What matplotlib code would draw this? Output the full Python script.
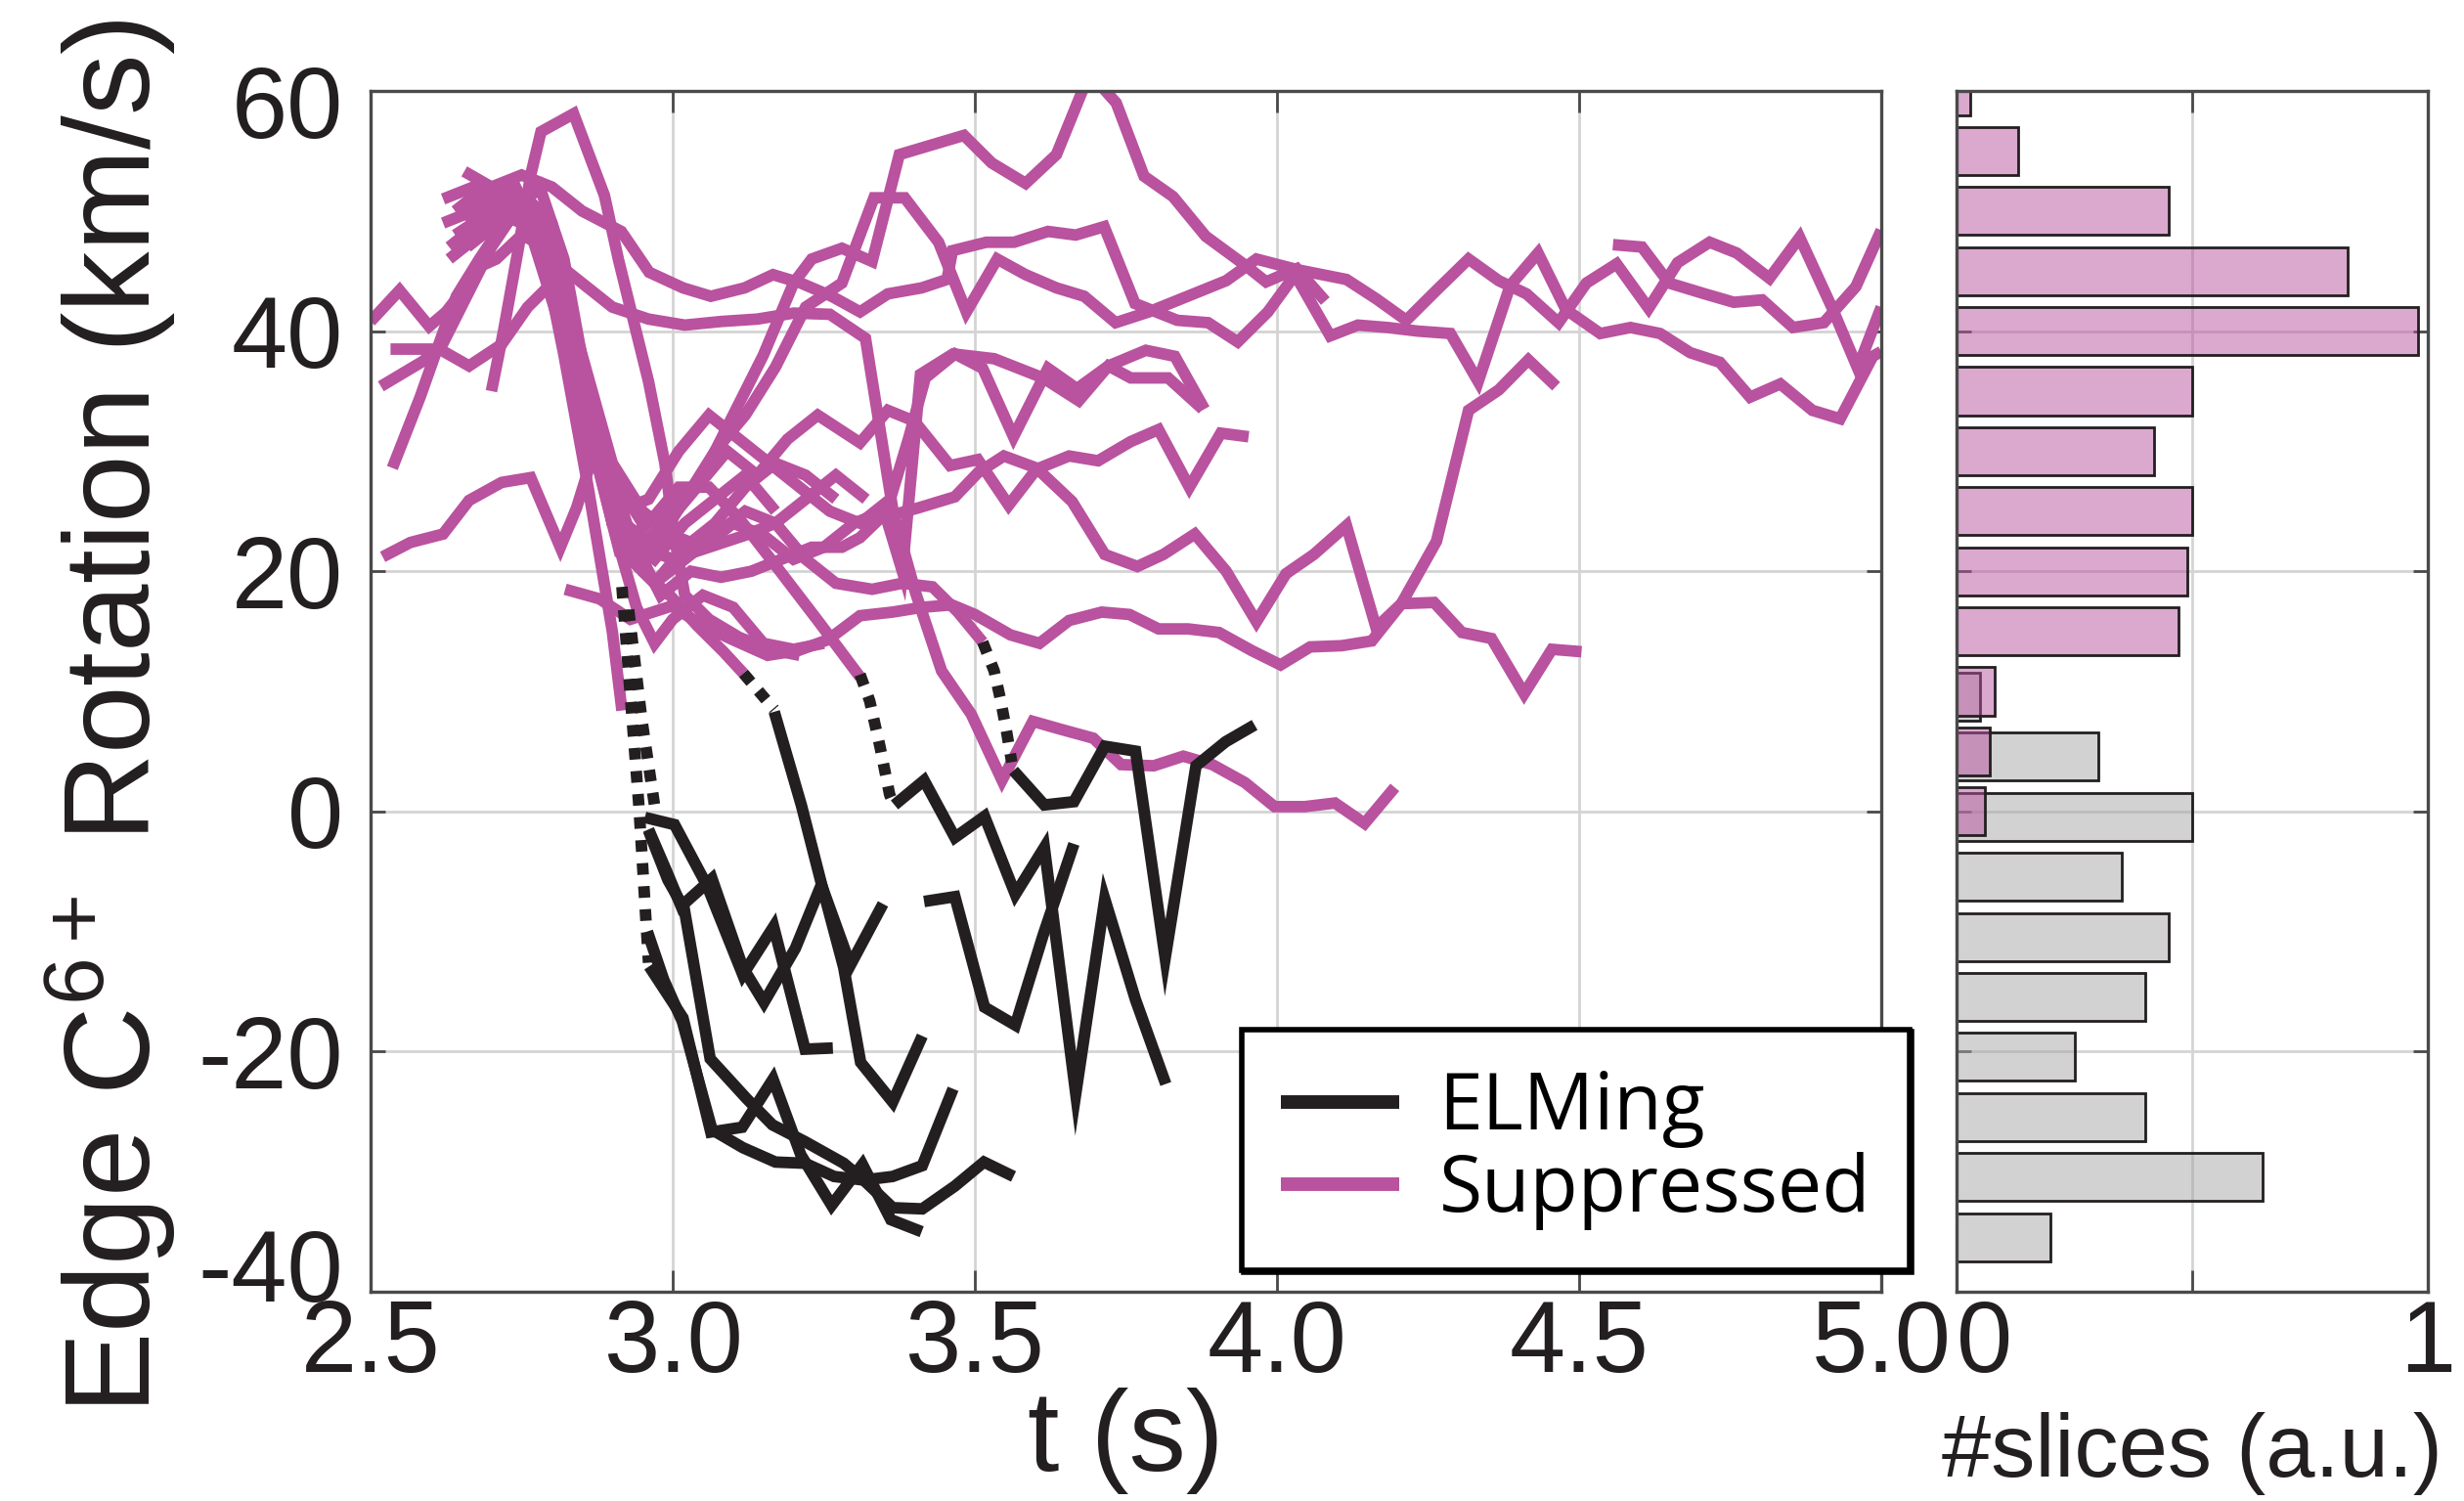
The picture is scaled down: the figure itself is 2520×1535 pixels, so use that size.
import matplotlib
matplotlib.use('Agg')
import matplotlib.pyplot as plt
from matplotlib.lines import Line2D
from matplotlib.transforms import ScaledTranslation

plt.rcParams['font.family'] = ['Liberation Sans', 'DejaVu Sans']
plt.rcParams['axes.unicode_minus'] = False
plt.rcParams['mathtext.fontset'] = 'custom'
plt.rcParams['mathtext.rm'] = 'Liberation Sans'
plt.rcParams['mathtext.it'] = 'Liberation Sans:italic'
plt.rcParams['mathtext.bf'] = 'Liberation Sans:bold'

PINK = '#B9529F'
BLACK = '#231F20'
SPINE = '#4a4a4a'
GRID = '#d4d4d4'

# ---------------- Suppressed (pink) traces: time (s), rotation (km/s) -------------
sup01_t = [4.556, 4.604, 4.649, 4.708, 4.756, 4.803, 4.854, 4.905, 4.958, 5.0]
sup01_v = [47.2, 47.0, 44.0, 43.1, 42.4, 42.6, 40.3, 40.7, 43.7, 48.4]

sup02_t = [2.66, 2.71, 2.76, 2.80, 2.85, 2.90, 2.95, 3.00, 3.05, 3.10, 3.15, 3.20, 3.23, 3.28, 3.33,
           3.375, 3.435, 3.482, 3.528, 3.584, 3.635, 3.69, 3.734, 3.78, 3.828, 3.882, 3.947, 3.982,
           4.033, 4.08]
sup02_v = [47, 49, 50, 45, 36, 28, 24, 25, 28, 33, 38, 44, 46, 46.9, 45.8,
           54.7, 55.6, 56.3, 54.0, 52.3, 54.7, 61.5, 59.0, 52.9, 51.2, 47.9, 45.5, 44.1,
           45.2, 42.5]

sup03_t = [2.62, 2.67, 2.72, 2.77, 2.82, 2.87, 2.92, 2.97, 3.02, 3.07,
           3.12, 3.17, 3.22, 3.28, 3.333, 3.384, 3.44, 3.486, 3.537, 3.584,
           3.635, 3.681, 3.733, 3.788, 3.862, 3.916, 3.966, 4.035, 4.115, 4.164,
           4.214, 4.264, 4.317, 4.367, 4.413, 4.466, 4.512, 4.562, 4.615, 4.663,
           4.716, 4.761, 4.815, 4.865, 4.919, 4.961, 5.0]
sup03_v = [51, 52, 50, 49, 42, 32, 24, 22, 26, 30,
           33, 37, 42, 44, 51.1, 51.1, 47.4, 41.6, 46.0, 44.7,
           43.6, 42.9, 40.7, 41.6, 43.1, 44.2, 46.0, 45.1, 44.3, 42.7,
           40.9, 43.4, 46.0, 44.2, 43.1, 40.7, 44.0, 45.6, 41.9, 45.7,
           47.4, 46.5, 44.4, 47.8, 41.9, 36.9, 42.0]

sup04_t = [2.655, 2.70, 2.75, 2.80, 2.85, 2.915, 2.961, 3.017, 3.063, 3.119,
           3.166, 3.212, 3.263, 3.31, 3.356, 3.412, 3.454, 3.463, 3.519, 3.565,
           3.621, 3.667, 3.714, 3.765, 3.835, 3.886, 3.935, 3.985, 4.03, 4.088,
           4.134, 4.183, 4.233, 4.287, 4.333, 4.386, 4.432, 4.478, 4.535, 4.585,
           4.634, 4.684, 4.733, 4.783, 4.833, 4.886, 4.932, 4.986, 5.0]
sup04_v = [53.3, 52, 53, 52, 50, 48.3, 44.9, 43.6, 42.9, 43.6,
           44.7, 44.0, 42.9, 41.6, 43.1, 43.6, 44.3, 46.7, 47.4, 47.4,
           48.3, 48.0, 48.7, 42.3, 40.9, 40.7, 39.1, 41.6, 44.7, 39.6,
           40.5, 40.3, 40.0, 39.8, 35.8, 43.8, 46.5, 41.8, 39.8, 40.3,
           39.8, 38.2, 37.4, 34.5, 35.6, 33.4, 32.7, 37.9, 38.3]

sup05_t = [2.50, 2.548, 2.597, 2.625, 2.656, 2.677, 2.708, 2.75, 2.79, 2.83, 2.87, 2.91, 2.96,
           3.01, 3.06, 3.11, 3.17, 3.24, 3.31]
sup05_v = [40.8, 43.4, 40.4, 41.6, 43.6, 45.3, 46.0, 48, 47, 40, 30, 22, 24,
           27, 27, 24.4, 20.5, 15.9, 11.2]

sup06_t = [2.62, 2.67, 2.72, 2.77, 2.82, 2.86, 2.90, 2.95, 2.997, 3.04, 3.084, 3.117]
sup06_v = [49, 50, 52, 50, 42, 32, 24, 20, 17.9, 15.5, 13.3, 11.5]

sup07_t = [2.64, 2.70, 2.76, 2.81, 2.86, 2.90, 2.95, 3.00, 3.06, 3.12, 3.17, 3.22, 3.27, 3.33,
           3.38, 3.43, 3.472, 3.513]
sup07_v = [50, 51, 50, 44, 34, 24, 22, 21, 22, 23, 24, 21, 19, 18.5, 19, 18.7, 16.6, 14.1]

sup08_t = [2.64, 2.70, 2.75, 2.80, 2.85, 2.90, 2.96, 3.02, 3.08, 3.14,
           3.20, 3.26, 3.319, 3.365, 3.402, 3.445, 3.494, 3.545, 3.596, 3.645,
           3.696, 3.742, 3.796, 3.845, 3.893, 3.947, 3.996, 4.046, 4.096, 4.145, 4.195]
sup08_v = [48, 50, 49, 46, 44, 42, 41, 40.5, 40.8, 41,
           41.5, 41.4, 39.4, 24.9, 18.2, 11.7, 8.1, 2.6, 7.5, 6.8,
           6.1, 3.9, 3.8, 4.6, 3.9, 2.4, 0.4, 0.4, 0.7, -1.0, 2.0]

sup09_t = [2.63, 2.68, 2.73, 2.78, 2.83, 2.88, 2.93, 2.98, 3.03, 3.08,
           3.13, 3.18, 3.23, 3.28, 3.31, 3.343, 3.408, 3.467, 3.505, 3.548,
           3.602, 3.661, 3.715, 3.769, 3.812, 3.864, 3.916, 3.966, 4.015, 4.061,
           4.115, 4.164, 4.206, 4.264, 4.317, 4.367, 4.416, 4.462]
sup09_v = [46, 48, 51, 49, 41, 31, 23, 18, 20, 19.5,
           20, 21, 22, 22, 22.8, 24.4, 25.3, 26.2, 28.2, 29.6,
           28.6, 25.8, 21.4, 20.4, 21.4, 23.1, 20.0, 15.8, 19.8, 21.4,
           23.8, 15.3, 17.3, 22.5, 33.4, 35.1, 37.6, 35.4]

sup10_t = [2.822, 2.879, 2.93, 2.998, 3.05, 3.095, 3.157, 3.208, 3.257, 3.31,
           3.364, 3.413, 3.462, 3.50, 3.559, 3.607, 3.656, 3.71, 3.756, 3.804,
           3.853, 3.904, 3.958, 4.006, 4.055, 4.107, 4.157, 4.206, 4.26, 4.306,
           4.355, 4.409, 4.455, 4.504]
sup10_v = [18.5, 17.7, 16.0, 17.1, 15.5, 14.4, 13.0, 13.4, 14.3, 16.3,
           16.6, 17.0, 17.2, 16.4, 14.7, 14.0, 15.9, 16.6, 16.4, 15.2,
           15.2, 14.9, 13.4, 12.2, 13.7, 13.8, 14.2, 17.3, 17.4, 14.9,
           14.4, 9.8, 13.5, 13.3]

sup11_t = [2.63, 2.68, 2.74, 2.79, 2.84, 2.89, 2.94, 2.99, 3.04, 3.09,
           3.14, 3.19, 3.24, 3.31, 3.356, 3.40, 3.459, 3.505, 3.556, 3.602,
           3.656, 3.704, 3.758, 3.804, 3.855, 3.907, 3.953]
sup11_v = [47, 49, 50, 46, 37, 28, 22, 24, 27, 30,
           28, 31, 33, 30.7, 33.4, 32.5, 28.8, 29.3, 25.5, 28.5,
           29.6, 29.2, 30.8, 31.8, 27.0, 31.5, 31.2]

sup12_t = [2.65, 2.70, 2.75, 2.80, 2.85, 2.90, 2.95, 3.00, 3.05, 3.10,
           3.15, 3.20, 3.25, 3.30, 3.35, 3.38, 3.41, 3.464, 3.532, 3.613,
           3.672, 3.721, 3.758, 3.82, 3.877]
sup12_v = [50, 52, 51, 47, 38, 29, 25, 23, 22, 24,
           23, 21, 22, 24, 25, 20, 36.4, 38.1, 37.7, 36.1,
           34.2, 37.1, 36.1, 36.1, 33.5]

sup13_t = [2.66, 2.71, 2.76, 2.81, 2.86, 2.91, 2.96, 3.01, 3.06, 3.11,
           3.16, 3.21, 3.26, 3.31, 3.36, 3.39, 3.418, 3.467, 3.513, 3.564,
           3.621, 3.669, 3.721, 3.783, 3.831, 3.88]
sup13_v = [49, 51, 49, 41, 31, 25, 26, 30, 33, 31,
           29, 27, 25, 24, 26, 31, 36.1, 38.1, 36.9, 31.2,
           36.9, 35.2, 37.1, 38.4, 37.9, 33.5]

sup14_t = [2.533, 2.614, 2.663, 2.717, 2.76, 2.80, 2.84, 2.88, 2.92, 2.97, 3.02, 3.07, 3.12, 3.17]
sup14_v = [38.5, 38.5, 37.1, 38.9, 42, 44, 38, 30, 23, 21, 24, 26, 28, 25]

sup15_t = [2.52, 2.566, 2.62, 2.663, 2.717, 2.765, 2.814, 2.841, 2.87, 2.90, 2.93, 2.97,
           3.02, 3.07, 3.12, 3.17, 3.22, 3.27, 3.32]
sup15_v = [21.2, 22.4, 23.1, 25.9, 27.4, 27.8, 22.0, 25.3, 30, 26, 21, 19,
           21, 23, 25, 24, 26, 28, 26]

sup16_t = [2.536, 2.582, 2.62, 2.642, 2.68, 2.72, 2.76, 2.80, 2.84, 2.88, 2.92, 2.97,
           3.02, 3.07, 3.12, 3.17, 3.22, 3.27]
sup16_v = [28.6, 34.5, 39.9, 42.9, 46, 49, 51, 49, 40, 31, 22, 19,
           22, 24, 27, 29, 28, 26]

sup17_t = [2.517, 2.587, 2.62, 2.66, 2.70, 2.74, 2.78, 2.82, 2.86, 2.90, 2.94, 2.97,
           3.00, 3.05, 3.10, 3.15, 3.20, 3.25]
sup17_v = [35.4, 37.5, 39, 43, 47, 50, 52, 46, 35, 24, 17, 14,
           16, 18, 17, 14, 13.5, 14]

sup18_t = [2.70, 2.72, 2.745, 2.765, 2.782, 2.836, 2.887, 2.91, 2.933, 2.96, 2.987, 3.003,
           3.02, 3.06, 3.11, 3.16, 3.21]
sup18_v = [35, 40, 47, 53, 56.6, 58.1, 51.3, 46, 41.3, 35.8, 29, 22.8,
           18, 16, 14.5, 13.5, 13]

sup19_t = [2.64, 2.69, 2.74, 2.78, 2.82, 2.86, 2.90, 2.916]
sup19_v = [50, 52, 52, 48, 38, 27, 15, 8.4]

# ---------------- ELMing (black) traces -------------
elm01_t = [2.961, 3.017, 3.063, 3.115, 3.166, 3.212, 3.263, 3.314, 3.361, 3.412]
elm01_v = [-12.9, -17.2, -26.7, -26.3, -22.3, -28.6, -32.8, -29.4, -34.0, -35.0]

elm02_t = [2.96, 2.992, 3.019, 3.062, 3.122, 3.165, 3.219, 3.283, 3.316, 3.364, 3.413, 3.467,
           3.515, 3.564]
elm02_v = [-1.6, -5.7, -8.1, -20.6, -23.9, -26.1, -27.5, -29.3, -30.7, -33.0, -33.1, -31.2,
           -29.2, -30.4]

elm03_t = [2.954, 3.003, 3.057, 3.116, 3.167, 3.219, 3.265]
elm03_v = [-0.5, -1.1, -6.2, -13.6, -9.6, -19.8, -19.7]

elm04_t = [2.96, 2.99, 3.014, 3.065, 3.116, 3.151, 3.203, 3.246, 3.294, 3.348]
elm04_v = [-1.5, -5.0, -7.9, -5.6, -13.0, -15.9, -11.4, -6.1, -12.8, -7.7]

elm05_t = [3.367, 3.416, 3.467, 3.516, 3.567, 3.615, 3.667, 3.715, 3.766, 3.816]
elm05_v = [0.54, 2.58, -2.17, -0.41, -6.9, -3.0, -23.5, -7.3, -15.7, -22.7]

elm06_t = [3.564, 3.615, 3.664, 3.715, 3.766, 3.815, 3.866, 3.915, 3.963]
elm06_v = [3.4, 0.54, 0.81, 5.43, 5.02, -12.2, 3.8, 5.8, 7.2]

elm07_t = [3.416, 3.467, 3.516, 3.567, 3.613, 3.664]
elm07_v = [-7.5, -7.1, -16.3, -17.8, -10.3, -2.7]

elm08_t = [3.168, 3.213, 3.246, 3.283, 3.311, 3.364, 3.413]
elm08_v = [8.3, 0.5, -6.0, -13.0, -20.9, -24.2, -18.7]

elm09_t = [2.958, 2.985, 3.016, 3.065, 3.116, 3.17, 3.219, 3.267, 3.316, 3.364, 3.413, 3.464]
elm09_v = [-10.0, -14.0, -17.5, -26.5, -28.0, -29.2, -29.3, -30.4, -30.7, -30.4, -29.5, -23.1]

# dotted transition segments (suppressed -> ELMing)
trans1_t = [2.916, 2.933, 2.944, 2.952, 2.96]
trans1_v = [18.7, 7.6, 0.5, -6.0, -12.6]
trans2_t = [2.927, 2.949, 2.97]
trans2_v = [16.8, 7.6, 0.5]
trans3_t = [3.117, 3.168]
trans3_v = [11.5, 8.5]
trans4_t = [3.31, 3.326, 3.343, 3.359, 3.364]
trans4_v = [11.4, 9.2, 5.4, 1.4, 0.8]
trans5_t = [3.513, 3.532, 3.543, 3.553, 3.561]
trans5_v = [14.1, 11.7, 9.2, 6.5, 4.1]

# ---------------- Histogram (#slices, normalised) -------------
sup_hist_bins = [60, 55, 50, 45, 40, 35, 30, 25, 20, 15, 10, 5, 0]
sup_hist_vals = [0.03, 0.13, 0.45, 0.83, 0.98, 0.50, 0.42, 0.50, 0.49, 0.47, 0.08, 0.07, 0.06]
elm_hist_bins = [9.55, 4.55, -0.45, -5.45, -10.45, -15.45, -20.45, -25.45, -30.45, -35.45]
elm_hist_vals = [0.05, 0.30, 0.50, 0.35, 0.45, 0.40, 0.25, 0.40, 0.65, 0.20]

x_ticks = [2.5, 3.0, 3.5, 4.0, 4.5, 5.0]
x_ticklabels = ['2.5', '3.0', '3.5', '4.0', '4.5', '5.0']
y_ticks = [-40, -20, 0, 20, 40, 60]
y_ticklabels = ['-40', '-20', '0', '20', '40', '60']

sup_lines = [(sup01_t, sup01_v), (sup02_t, sup02_v), (sup03_t, sup03_v), (sup04_t, sup04_v),
             (sup05_t, sup05_v), (sup06_t, sup06_v), (sup07_t, sup07_v), (sup08_t, sup08_v),
             (sup09_t, sup09_v), (sup10_t, sup10_v), (sup11_t, sup11_v), (sup12_t, sup12_v),
             (sup13_t, sup13_v), (sup14_t, sup14_v), (sup15_t, sup15_v), (sup16_t, sup16_v),
             (sup17_t, sup17_v), (sup18_t, sup18_v), (sup19_t, sup19_v)]
elm_lines = [(elm01_t, elm01_v), (elm02_t, elm02_v), (elm03_t, elm03_v), (elm04_t, elm04_v),
             (elm05_t, elm05_v), (elm06_t, elm06_v), (elm07_t, elm07_v), (elm08_t, elm08_v),
             (elm09_t, elm09_v)]
trans_lines = [(trans1_t, trans1_v), (trans2_t, trans2_v), (trans3_t, trans3_v),
               (trans4_t, trans4_v), (trans5_t, trans5_v)]

# ---------------- Figure -------------
W, H = 2520, 1535
fig = plt.figure(figsize=(W / 100, H / 100), dpi=100)
ax = fig.add_axes([379 / W, 1 - 1321 / H, (1924 - 379) / W, (1321 - 93) / H])
axh = fig.add_axes([2001 / W, 1 - 1321 / H, (2483 - 2001) / W, (1321 - 93) / H])

LW = 8.5
for t, v in sup_lines:
    ax.plot(t, v, color=PINK, lw=LW, solid_capstyle='butt', solid_joinstyle='miter', zorder=2)
for t, v in elm_lines:
    ax.plot(t, v, color=BLACK, lw=LW, solid_capstyle='butt', solid_joinstyle='miter', zorder=3)
for t, v in trans_lines:
    ax.plot(t, v, color=BLACK, lw=LW, linestyle=(0, (1.0, 1.0)), dash_capstyle='butt', zorder=3)

ax.set_xlim(2.5, 5.0)
ax.set_ylim(-40, 60)
ax.set_xticks(x_ticks)
ax.set_xticklabels(x_ticklabels)
ax.set_yticks(y_ticks)
ax.set_yticklabels(y_ticklabels)
ax.grid(True, color=GRID, lw=2)
ax.set_axisbelow(True)

for a in (ax, axh):
    for s in a.spines.values():
        s.set_color(SPINE)
        s.set_linewidth(2.4)
        s.set_zorder(5)

ax.tick_params(axis='both', which='major', direction='in', top=True, right=True,
               color=SPINE, width=2, labelsize=74, labelcolor=BLACK)
ax.tick_params(axis='x', length=16, pad=5)
ax.tick_params(axis='y', length=11, pad=20)

# MATLAB-like nudging of the extreme y tick labels
for tick in ax.yaxis.get_major_ticks():
    loc = tick.get_loc()
    if loc == -40:
        tick.label1.set_transform(tick.label1.get_transform()
                                  + ScaledTranslation(0, 0.27, fig.dpi_scale_trans))
    elif loc == 60:
        tick.label1.set_transform(tick.label1.get_transform()
                                  + ScaledTranslation(0, -0.1, fig.dpi_scale_trans))

ax.set_xlabel('t (s)', fontsize=84, color=BLACK, va='top')
ax.xaxis.set_label_coords(0.5, -0.08)
ax.set_ylabel('Edge C$^{6+}$ Rotation (km/s)', fontsize=90, color=BLACK)
ax.yaxis.label.set_va('center')
ax.yaxis.set_label_coords(-0.172, 0.479)

handles = [Line2D([], [], color=BLACK, lw=10, solid_capstyle='butt'),
           Line2D([], [], color=PINK, lw=10, solid_capstyle='butt')]
leg = ax.legend(handles, ['ELMing', 'Suppressed'], loc='upper left',
                bbox_to_anchor=(1270 / W, 1 - 1053 / H), bbox_transform=fig.transFigure,
                frameon=True, fancybox=False, prop={'family': 'Open Sans', 'size': 58},
                borderpad=0.5, borderaxespad=0, handlelength=1.5, handletextpad=0.5,
                labelspacing=0.05, shadow={'color': 'black', 'alpha': 1, 'ox': 1.5, 'oy': -1.5})
leg.get_frame().set_edgecolor('black')
leg.get_frame().set_linewidth(4)
leg.get_frame().set_alpha(1)
leg.set_zorder(10)
for txt in leg.get_texts():
    txt.set_color('black')

# histogram
axh.barh(elm_hist_bins, elm_hist_vals, height=4.0, facecolor=(0.65, 0.65, 0.65, 0.5),
         edgecolor=BLACK, linewidth=2, zorder=2)
axh.barh(sup_hist_bins, sup_hist_vals, height=4.0, facecolor=(185 / 255, 82 / 255, 159 / 255, 0.5),
         edgecolor=BLACK, linewidth=2, zorder=3)
axh.set_xlim(0, 1)
axh.set_ylim(-40, 60)
axh.set_xticks([0, 0.5, 1])
axh.set_xticklabels(['0', '', '1'])
axh.set_yticks(y_ticks)
axh.set_yticklabels([])
axh.grid(True, color=GRID, lw=2)
axh.set_axisbelow(True)
axh.tick_params(axis='both', which='major', direction='in', top=True, right=True,
                color=SPINE, width=2, labelsize=74, labelcolor=BLACK)
axh.tick_params(axis='x', length=16, pad=5)
axh.tick_params(axis='y', length=11)
for tick in axh.xaxis.get_major_ticks():
    if tick.get_loc() == 0:
        tick.label1.set_horizontalalignment('left')
axh.set_xlabel('#slices (a.u.)', fontsize=65, color=BLACK, va='top')
axh.xaxis.set_label_coords(0.5, -0.1)

fig.savefig('out.png', dpi=100)
